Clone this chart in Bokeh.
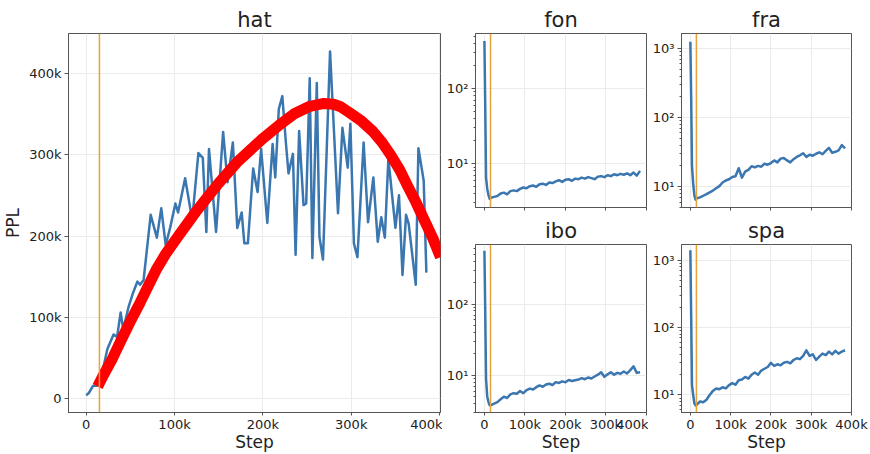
from bokeh.plotting import figure
from bokeh.layouts import row, column
from bokeh.models import Range1d, FixedTicker, CustomJSTickFormatter, Span
from bokeh.embed import file_html
from bokeh.resources import INLINE

# ---------------- data ----------------
hat_steps = [0, 3000, 8000, 12000, 16000, 24000, 31000, 35000, 39000, 42000,
             48000, 53000, 58000, 61000, 65000, 73000, 80000, 85000, 90000, 95000,
             101000, 104000, 112000, 120000, 127000, 132000, 136000, 139000, 147000, 155000,
             160000, 166000, 171000, 176000, 179000, 183000, 189000, 194000, 198000, 205000,
             211000, 214000, 218000, 222000, 226000, 229000, 234000, 237000, 241000, 246000,
             249000, 253000, 256000, 261000, 264000, 268000, 276000, 285000, 290000, 296000,
             299000, 303000, 307000, 314000, 319000, 325000, 330000, 334000, 338000, 342000,
             350000, 354000, 358000, 362000, 365000, 373000, 376000, 382000, 385000]
hat_ppl = [4000, 7000, 16000, 16000, 21000, 61000, 79000, 76000, 106000, 85000,
           113000, 130000, 144000, 140000, 146000, 226000, 198000, 234000, 189000, 210000,
           240000, 229000, 271000, 220000, 302000, 296000, 205000, 307000, 205000, 328000,
           266000, 315000, 210000, 229000, 191000, 191000, 283000, 254000, 307000, 216000,
           313000, 272000, 356000, 372000, 315000, 277000, 301000, 177000, 329000, 238000,
           240000, 394000, 173000, 388000, 199000, 171000, 427000, 228000, 333000, 284000,
           338000, 191000, 174000, 315000, 217000, 272000, 193000, 223000, 198000, 295000,
           210000, 250000, 152000, 226000, 215000, 140000, 308000, 268000, 155000]

fit_steps = [13000, 20000, 30000, 40000, 50000, 61000, 70000, 80000, 90000, 103000,
             115000, 125000, 133000, 150000, 171000, 185000, 200000, 218000, 235000, 252000,
             269000, 280000, 288000, 299000, 312000, 325000, 335000, 345000, 355000, 364000,
             373000, 382000, 392000, 401000]
fit_ppl = [15000, 30000, 50000, 73000, 95000, 118000, 138000, 160000, 178000, 198000,
           216000, 231000, 242000, 265000, 291000, 305000, 320000, 336000, 350000, 359000,
           363000, 362000, 359000, 351000, 341000, 328000, 315000, 299000, 281000, 261000,
           242000, 221000, 198000, 174000]

warmup_step = 15000

small_steps = [0, 2000, 4000, 7000, 10000, 13000] + list(range(16000, 384001, 8000))

fon_ppl = [430, 60, 6.5, 4.6, 3.8, 3.4,
           3.5, 3.6, 3.7, 4.0, 4.1, 3.9, 4.3, 4.4, 4.3, 4.6,
           4.8, 4.7, 5.0, 5.1, 4.9, 5.3, 5.4, 5.2, 5.6, 5.5,
           5.8, 6.0, 5.7, 6.1, 6.2, 5.9, 6.3, 6.2, 6.5, 6.3,
           6.6, 6.4, 6.2, 6.7, 6.8, 6.6, 7.0, 6.8, 7.2, 7.0,
           7.3, 7.1, 7.4, 7.0, 7.6, 6.9, 8.0]
fra_ppl = [1250, 200, 20, 11, 7.5, 6.5,
           6.8, 7.0, 7.4, 7.8, 8.3, 8.8, 9.5, 10.2, 11.5, 12.3,
           12.8, 13.8, 14.2, 18.5, 13.5, 16.5, 17.5, 19.8, 19.0, 20.0,
           19.5, 21.5, 20.8, 22.0, 24.0, 22.5, 25.5, 26.0, 24.0, 22.5,
           25.0, 27.0, 28.5, 30.5, 27.0, 29.0, 28.0, 30.0, 31.5, 29.5,
           33.0, 36.5, 31.0, 32.0, 33.5, 40.0, 36.0]
ibo_ppl = [560, 80, 9, 5, 4.2, 3.8,
           3.8, 4.0, 4.2, 4.6, 5.0, 4.8, 5.4, 5.6, 5.5, 6.0,
           5.6, 6.2, 6.5, 6.3, 6.8, 7.2, 6.9, 7.4, 7.6, 7.3,
           8.0, 7.8, 8.2, 8.0, 8.6, 8.3, 8.5, 8.7, 9.1, 8.8,
           9.3, 9.0, 9.6, 10.2, 11.0, 9.5, 10.3, 11.0, 10.2, 10.8,
           10.5, 11.3, 10.6, 11.8, 13.3, 10.8, 11.0]
spa_ppl = [1400, 150, 14, 10, 7.5, 7.0,
           7.2, 8.0, 7.8, 8.5, 10.0, 11.5, 12.5, 12.2, 13.0, 12.5,
           14.0, 15.0, 14.2, 16.5, 17.0, 18.5, 17.5, 20.0, 21.5, 20.0,
           23.0, 24.5, 26.0, 30.0, 27.0, 28.5, 27.5, 30.0, 31.0, 29.5,
           33.0, 35.0, 34.0, 38.0, 46.0, 38.0, 40.0, 33.0, 37.0, 41.0,
           39.0, 44.0, 40.0, 45.0, 41.0, 44.0, 46.0]

x_ticks = [0, 100000, 200000, 300000, 400000]
hat_y_ticks = [0, 100000, 200000, 300000, 400000]
log_ticks = [10, 100, 1000]

# ---------------- style ----------------
FONT = "DejaVu Sans"
BLUE = "#3A76AF"
ORANGE = "#E8A23A"
RED = "#FF0000"
GRID = "#EBEBEB"
FRAME = "#555555"
TXT = "#222222"

k_fmt = CustomJSTickFormatter(code="return tick == 0 ? '0' : Math.round(tick/1000) + 'k';")
log_fmt = CustomJSTickFormatter(code="""
const e = Math.round(Math.log10(tick));
const sup = {1: '\u00b9', 2: '\u00b2', 3: '\u00b3'};
return '10' + sup[e];
""")
blank_fmt = CustomJSTickFormatter(code="return '';")


def style(p, title_size="21px"):
    p.title.text_font = FONT
    p.title.text_font_size = title_size
    p.title.text_font_style = "normal"
    p.title.align = "center"
    p.title.text_color = TXT
    p.title.standoff = 4
    p.outline_line_color = FRAME
    p.outline_line_width = 1
    for ax in (p.xaxis[0], p.yaxis[0]):
        ax.axis_line_color = FRAME
        ax.major_tick_line_color = FRAME
        ax.major_tick_out = 4
        ax.major_tick_in = 0
        ax.minor_tick_line_color = None
        ax.major_label_text_font = FONT
        ax.major_label_text_font_size = "13px"
        ax.major_label_text_color = TXT
        ax.major_label_standoff = 3
        ax.axis_label_text_font = FONT
        ax.axis_label_text_font_size = "17px"
        ax.axis_label_text_font_style = "normal"
        ax.axis_label_text_color = TXT
        ax.axis_label_standoff = 3
    p.xaxis[0].major_tick_out = 3
    p.xaxis[0].major_label_standoff = 1
    p.xaxis[0].axis_label_standoff = -3
    p.xgrid.grid_line_color = GRID
    p.ygrid.grid_line_color = GRID
    p.background_fill_color = "white"
    p.border_fill_color = "white"


# ---------------- main plot ----------------
main = figure(width=442, height=454, title="hat",
              x_range=Range1d(-20000, 401000), y_range=Range1d(-17000, 449000),
              output_backend="svg", toolbar_location=None,
              min_border_left=68, min_border_right=2, min_border_top=33, min_border_bottom=38)
style(main)
main.xaxis[0].ticker = FixedTicker(ticks=x_ticks)
main.xaxis[0].formatter = k_fmt
main.yaxis[0].ticker = FixedTicker(ticks=hat_y_ticks)
main.yaxis[0].formatter = k_fmt
main.xaxis[0].axis_label = "Step"
main.yaxis[0].axis_label = "PPL"
main.add_layout(Span(location=warmup_step, dimension="height", line_color=ORANGE, line_width=1.5))
main.line(hat_steps, hat_ppl, line_color=BLUE, line_width=2.5, line_join="round")
main.line(fit_steps, fit_ppl, line_color=RED, line_width=11, line_cap="butt", line_join="round")


# ---------------- small plots ----------------
def small(name, ppl, yr, top_row, left_edge_w, right_w):
    if top_row:
        h, mt, mb = 214, 33, 7
    else:
        h, mt, mb = 240, 28, 38
    p = figure(width=left_edge_w, height=h, title=name, y_axis_type="log",
               x_range=Range1d(-22000, 400000), y_range=Range1d(*yr),
               output_backend="svg", toolbar_location=None,
               min_border_left=33, min_border_right=right_w, min_border_top=mt, min_border_bottom=mb)
    style(p)
    p.xaxis[0].ticker = FixedTicker(ticks=x_ticks)
    minors = [m * d for d in (1, 10, 100, 1000) for m in range(2, 10)]
    p.yaxis[0].ticker = FixedTicker(ticks=log_ticks, minor_ticks=minors)
    p.yaxis[0].formatter = log_fmt
    p.yaxis[0].minor_tick_line_color = FRAME
    p.yaxis[0].minor_tick_out = 2
    p.yaxis[0].minor_tick_in = 0
    if top_row:
        p.xaxis[0].formatter = blank_fmt
    else:
        p.xaxis[0].formatter = k_fmt
        p.xaxis[0].axis_label = "Step"
    p.add_layout(Span(location=warmup_step, dimension="height", line_color=ORANGE, line_width=1.5))
    p.line(small_steps, ppl, line_color=BLUE, line_width=2.5, line_join="round")
    return p


fon = small("fon", fon_ppl, (2.6, 540), True, 206, 2)
ibo = small("ibo", ibo_ppl, (3.0, 685), False, 206, 2)
fra = small("fra", fra_ppl, (5.0, 1650), True, 222, 19)
spa = small("spa", spa_ppl, (5.5, 1700), False, 222, 19)

layout = row(main, column(fon, ibo), column(fra, spa))

with open("out.html", "w", encoding="utf-8") as f:
    f.write(file_html(layout, INLINE))
